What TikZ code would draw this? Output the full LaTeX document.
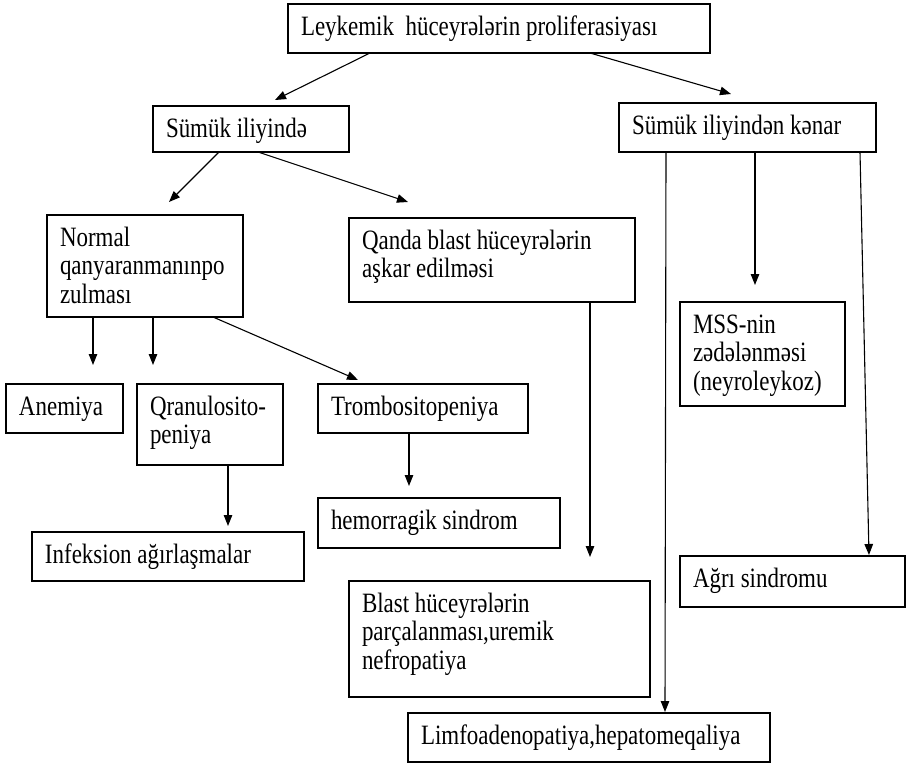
\documentclass[tikz,border=0pt]{standalone}
\usepackage{fontspec}
\setmainfont{Liberation Serif}[FakeStretch=0.82]
\usetikzlibrary{arrows.meta,calc}
\newcommand\bxt[3]{\parbox[c][#2][t]{#1}{\raggedright\fontsize{28pt}{28.5pt}\selectfont\rule{0pt}{31pt}#3}}
\tikzset{
  box/.style={draw, line width=1.3pt, inner xsep=13pt, inner ysep=0pt, outer sep=0pt, anchor=north west},
  arr/.style={line width=1.1pt, -{Triangle[length=11pt,width=8.5pt]}}
}
\begin{document}
\begin{tikzpicture}[x=1pt,y=-1pt]
\useasboundingbox (0,0) rectangle (906,763);
\node[box] (top) at (288,4) {\bxt{396pt}{49pt}{Leykemik\ \ hüceyrələrin proliferasiyası}};
\node[box] (sil) at (153,106) {\bxt{170pt}{46pt}{Sümük iliyində}};
\node[box] (kenar) at (619,103) {\bxt{231pt}{49pt}{Sümük iliyindən kənar}};
\node[box] (normal) at (47,215) {\bxt{170pt}{102pt}{Normal\\qanyaranmanınpo\\zulması}};
\node[box] (qanda) at (349,218) {\bxt{260pt}{84pt}{Qanda blast hüceyrələrin\\aşkar edilməsi}};
\node[box] (mss) at (680,302) {\bxt{139pt}{104pt}{MSS-nin\\zədələnməsi\\(neyroleykoz)}};
\node[box] (anemiya) at (6,384) {\bxt{91pt}{49pt}{Anemiya}};
\node[box] (qranulo) at (137,384) {\bxt{120pt}{81pt}{Qranulosito-\\peniya}};
\node[box] (trombo) at (318,384) {\bxt{184pt}{49pt}{Trombositopeniya}};
\node[box] (infek) at (32,532) {\bxt{246pt}{49pt}{Infeksion ağırlaşmalar}};
\node[box] (hemor) at (318,498) {\bxt{216pt}{50pt}{hemorragik sindrom}};
\node[box] (blast) at (349,581) {\bxt{275pt}{116pt}{Blast hüceyrələrin\\parçalanması,uremik\\nefropatiya}};
\node[box] (agri) at (680,556) {\bxt{199pt}{51pt}{Ağrı sindromu}};
\node[box] (limfo) at (408,713) {\bxt{336pt}{49pt}{Limfoadenopatiya,hepatomeqaliya}};

\draw[arr] (370,0 |- top.south) -- ($(275,0 |- sil.north)+(0,-6)$);
\draw[arr] (590,0 |- top.south) -- ($(731,0 |- kenar.north)+(0,-9)$);
\draw[arr] (219,0 |- sil.south) -- ($(169,0 |- normal.north)+(0,-13)$);
\draw[arr] (258,0 |- sil.south) -- ($(408,0 |- qanda.north)+(0,-16)$);
\draw[arr] (93,0 |- normal.south) -- ($(93,0 |- anemiya.north)+(0,-19)$);
\draw[arr] (153,0 |- normal.south) -- ($(153,0 |- qranulo.north)+(0,-19)$);
\draw[arr] (213,0 |- normal.south) -- ($(358,0 |- trombo.north)+(0,-4)$);
\draw[arr] (228,0 |- qranulo.south) -- ($(228,0 |- infek.north)+(0,-6)$);
\draw[arr] (409,0 |- trombo.south) -- ($(409,0 |- hemor.north)+(0,-12)$);
\draw[arr] (590,0 |- qanda.south) -- ($(590,0 |- blast.north)+(0,-24)$);
\draw[arr] (666,0 |- kenar.south) -- ($(665,0 |- limfo.north)+(0,-1)$);
\draw[arr] (755,0 |- kenar.south) -- ($(755,0 |- mss.north)+(0,-17)$);
\draw[arr] (860,0 |- kenar.south) -- ($(869,0 |- agri.north)+(0,-1)$);
\end{tikzpicture}
\end{document}
